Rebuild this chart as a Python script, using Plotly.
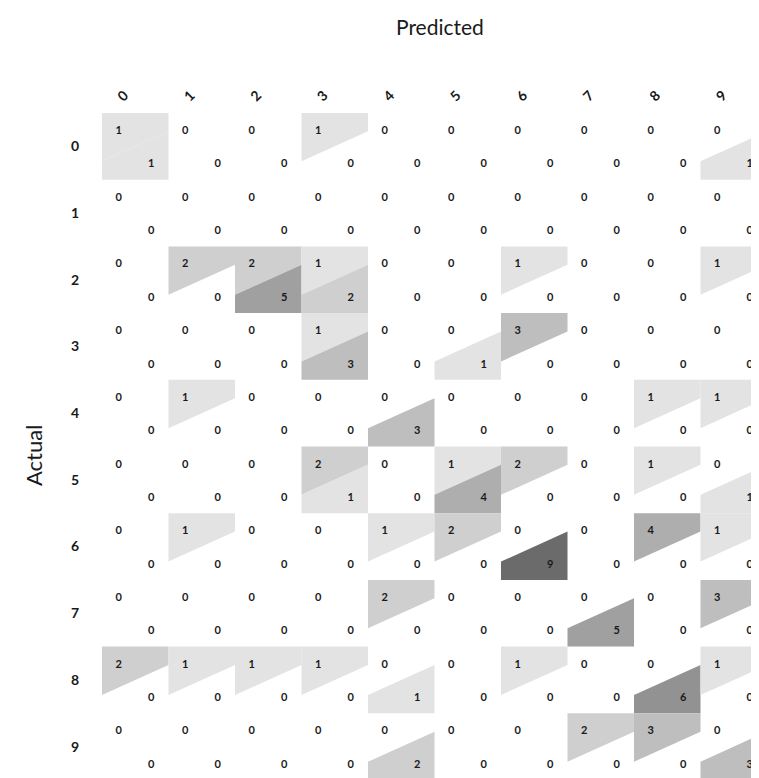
import plotly.graph_objects as go

classes = ["0", "1", "2", "3", "4", "5", "6", "7", "8", "9"]

# upper-left triangle values (row = actual, col = predicted)
upper_vals = [
    [1, 0, 0, 1, 0, 0, 0, 0, 0, 0],
    [0, 0, 0, 0, 0, 0, 0, 0, 0, 0],
    [0, 2, 2, 1, 0, 0, 1, 0, 0, 1],
    [0, 0, 0, 1, 0, 0, 3, 0, 0, 0],
    [0, 1, 0, 0, 0, 0, 0, 0, 1, 1],
    [0, 0, 0, 2, 0, 1, 2, 0, 1, 0],
    [0, 1, 0, 0, 1, 2, 0, 0, 4, 1],
    [0, 0, 0, 0, 2, 0, 0, 0, 0, 3],
    [2, 1, 1, 1, 0, 0, 1, 0, 0, 1],
    [0, 0, 0, 0, 0, 0, 0, 2, 3, 0],
]

# lower-right triangle values
lower_vals = [
    [1, 0, 0, 0, 0, 0, 0, 0, 0, 1],
    [0, 0, 0, 0, 0, 0, 0, 0, 0, 0],
    [0, 0, 5, 2, 0, 0, 0, 0, 0, 0],
    [0, 0, 0, 3, 0, 1, 0, 0, 0, 0],
    [0, 0, 0, 0, 3, 0, 0, 0, 0, 0],
    [0, 0, 0, 1, 0, 4, 0, 0, 0, 1],
    [0, 0, 0, 0, 0, 0, 9, 0, 0, 0],
    [0, 0, 0, 0, 0, 0, 0, 5, 0, 0],
    [0, 0, 0, 0, 1, 0, 0, 0, 6, 0],
    [0, 0, 0, 0, 2, 0, 0, 0, 0, 3],
]

VMAX = 9
SPLIT = 0.225


def gray(v):
    g = int(round(255 - 148 * (v / VMAX) ** 0.75))
    return f"rgb({g},{g},{g})"


shapes = []
for i in range(len(classes)):
    for j in range(len(classes)):
        u = upper_vals[i][j]
        l = lower_vals[i][j]
        if u > 0:
            path = (f"M {j-0.5},{i-0.5} L {j+0.5},{i-0.5} L {j+0.5},{i-SPLIT} "
                    f"L {j-0.5},{i+SPLIT} Z")
            shapes.append(dict(type="path", path=path, xref="x", yref="y",
                               fillcolor=gray(u), line=dict(width=0), layer="below"))
        if l > 0:
            path = (f"M {j-0.5},{i+SPLIT} L {j+0.5},{i-SPLIT} L {j+0.5},{i+0.5} "
                    f"L {j-0.5},{i+0.5} Z")
            shapes.append(dict(type="path", path=path, xref="x", yref="y",
                               fillcolor=gray(l), line=dict(width=0), layer="below"))

tx, ty, tt = [], [], []
bx, by, bt = [], [], []
for i in range(len(classes)):
    for j in range(len(classes)):
        tx.append(j - 0.25)
        ty.append(i - 0.225)
        tt.append(str(upper_vals[i][j]))
        bx.append(j + 0.24)
        by.append(i + 0.275)
        bt.append(str(lower_vals[i][j]))

cell_font = dict(family="Lato", size=11, color="#1a1a1a", weight="bold")

fig = go.Figure()
fig.add_trace(go.Scatter(x=tx, y=ty, text=tt, mode="text", cliponaxis=False,
                         textfont=cell_font, hoverinfo="skip", showlegend=False))
fig.add_trace(go.Scatter(x=bx, y=by, text=bt, mode="text", cliponaxis=False,
                         textfont=cell_font, hoverinfo="skip", showlegend=False))

fig.update_layout(
    width=759, height=778,
    margin=dict(l=94, r=0, t=105, b=6, autoexpand=False),
    paper_bgcolor="white", plot_bgcolor="white",
    shapes=shapes,
    font=dict(family="Lato", color="#1a1a1a"),
    xaxis=dict(
        side="top", range=[-0.5, 9.5], automargin=False,
        tickvals=[j - 0.25 for j in range(len(classes))], ticktext=classes,
        tickangle=-45, showgrid=False, zeroline=False, showline=False,
        ticks="", ticklabelstandoff=5,
        tickfont=dict(family="Lato", size=14, color="#1a1a1a", weight="bold"),
    ),
    yaxis=dict(
        range=[9.5, -0.5], automargin=False,
        tickvals=list(range(len(classes))), ticktext=classes,
        showgrid=False, zeroline=False, showline=False,
        ticks="", ticklabelstandoff=22,
        tickfont=dict(family="Lato", size=14, color="#1a1a1a", weight="bold"),
    ),
    annotations=[
        dict(text="Predicted", xref="paper", yref="paper", x=0.508, y=1.129,
             showarrow=False, xanchor="center", yanchor="middle",
             font=dict(family="Lato", size=21, color="#1a1a1a")),
        dict(text="Actual", xref="paper", yref="paper", x=-0.104, y=0.487,
             showarrow=False, xanchor="center", yanchor="middle", textangle=-90,
             font=dict(family="Lato", size=22, color="#1a1a1a")),
    ],
)

fig.write_html("out.html",
               post_script="document.body.style.overflow='hidden';"
                           "document.documentElement.style.overflow='hidden';")
